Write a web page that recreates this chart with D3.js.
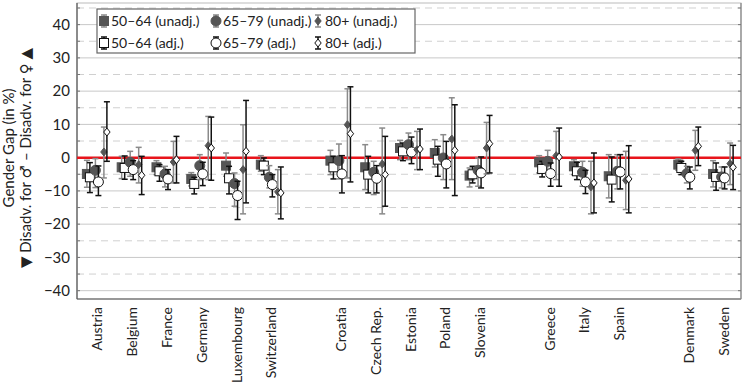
<!DOCTYPE html>
<html>
<head>
<meta charset="utf-8">
<script src="https://cdn.jsdelivr.net/npm/d3@7"></script>
<style>
  body { margin: 0; background: #fff; }
  text { font-family: Lato, "DejaVu Sans", sans-serif; fill: #222; }
</style>
</head>
<body>
<svg id="chart" width="745" height="383"></svg>
<script>
// Countries, with empty slots between the regional groups
const countries = ['Austria', 'Belgium', 'France', 'Germany', 'Luxembourg', 'Switzerland', '_g1',
  'Croatia', 'Czech Rep.', 'Estonia', 'Poland', 'Slovenia', '_g2',
  'Greece', 'Italy', 'Spain', '_g3', 'Denmark', 'Sweden'];
const realCountries = countries.filter(c => c[0] !== '_');

const yTicks = [-40, -30, -20, -10, 0, 10, 20, 30, 40];

// gap values (in %) and confidence bounds, one entry per real country
const v5064u = [-4.9, -2.9, -2.9, -6.4, -2.4, -2.1, -0.9, -2.9, 2.9, 1.4, -5.4, -1.4, -2.6, -5.6, -2.1, -4.9];
const lo5064u = [-8.9, -6.3, -5.1, -8.5, -5.6, -4.1, -5.1, -9.6, -0.6, -2.8, -8.8, -4.6, -5.1, -12.1, -3.8, -8.8];
const hi5064u = [-0.8, 0.4, -0.9, -4.5, 1.4, 0.6, 2.2, 3.9, 5.2, 5.4, -3.1, 0.6, -0.6, 0.9, -0.4, -0.9];

const v5064a = [-5.9, -3.1, -4.1, -7.9, -6.2, -2.4, -2.9, -5.1, 1.9, -0.6, -5.0, -3.4, -4.1, -6.6, -3.1, -5.8];
const lo5064a = [-10.5, -6.5, -7.1, -10.9, -10.9, -5.1, -6.4, -10.6, -0.9, -5.6, -7.6, -5.8, -6.6, -13.3, -5.1, -9.8];
const hi5064a = [-1.5, 0.5, -2.1, -5.9, -2.6, -0.1, 0.4, 0.4, 4.4, 3.4, -2.6, -1.1, -1.4, 0.2, -1.1, -1.6];

const v6579u = [-3.8, -1.4, -4.9, -2.4, -7.8, -5.9, -0.9, -4.4, 3.9, -0.1, -3.8, -1.1, -4.4, -4.1, -4.8, -5.8];
const lo6579u = [-9.0, -5.6, -8.8, -6.6, -14.6, -9.1, -6.4, -11.1, -0.6, -6.6, -8.6, -4.6, -8.6, -9.4, -7.6, -9.1];
const hi6579u = [-0.3, 1.9, -2.6, 0.9, -4.6, -2.4, 4.1, -1.1, 7.4, 6.9, -0.1, 2.2, -1.1, 0.9, -2.6, -2.8];

const v6579a = [-7.3, -3.6, -6.4, -4.9, -11.4, -8.1, -4.9, -6.2, 1.7, -1.9, -4.6, -4.8, -7.3, -4.3, -5.9, -6.1];
const lo6579a = [-11.4, -6.6, -9.6, -8.4, -18.6, -11.8, -10.6, -10.6, -1.8, -9.1, -9.1, -8.6, -10.8, -9.4, -9.4, -9.4];
const hi6579a = [-2.5, -0.9, -3.6, -1.4, -7.1, -5.1, 0.6, -2.4, 6.2, 4.9, 0.2, -1.6, -3.8, 0.9, -2.8, -2.8];

const v80u = [1.7, -2.1, -1.3, 3.6, -3.6, -10.3, 9.9, -1.9, 2.4, 5.6, 2.9, 0.6, -8.8, -6.8, 2.2, -1.8];
const lo80u = [-6.1, -7.6, -7.6, -6.6, -16.9, -16.9, -6.1, -16.9, -3.6, -6.6, -4.9, -6.6, -16.9, -15.6, -3.8, -8.1];
const hi80u = [9.2, 3.1, 4.9, 12.4, 9.9, -3.6, 20.7, 8.9, 7.9, 18.0, 10.6, 7.9, -1.1, 1.9, 8.2, 4.4];

const v80a = [7.7, -5.3, -0.6, 2.9, 1.9, -10.6, 7.2, -5.1, 2.6, 2.2, 4.2, 0.2, -7.6, -6.4, 3.4, -2.9];
const lo80a = [-1.1, -11.1, -7.6, -6.8, -13.6, -18.4, -7.3, -14.6, -3.6, -11.4, -4.6, -8.6, -16.6, -16.6, -2.4, -9.6];
const hi80a = [16.8, 0.4, 6.4, 12.2, 17.2, -2.8, 21.3, 6.4, 8.6, 15.9, 12.7, 8.9, 1.4, 3.6, 9.2, 3.7];

const series = [
  { label: '50–64 (unadj.)', shape: 'square', adj: false, dx: -10.5, v: v5064u, lo: lo5064u, hi: hi5064u },
  { label: '50–64 (adj.)', shape: 'square', adj: true, dx: -7.5, v: v5064a, lo: lo5064a, hi: hi5064a },
  { label: '65–79 (unadj.)', shape: 'circle', adj: false, dx: -2, v: v6579u, lo: lo6579u, hi: hi6579u },
  { label: '65–79 (adj.)', shape: 'circle', adj: true, dx: 1, v: v6579a, lo: lo6579a, hi: hi6579a },
  { label: '80+ (unadj.)', shape: 'diamond', adj: false, dx: 6.5, v: v80u, lo: lo80u, hi: hi80u },
  { label: '80+ (adj.)', shape: 'diamond', adj: true, dx: 9.5, v: v80a, lo: lo80a, hi: hi80a }
];

const margin = { left: 77, right: 4, top: 3, bottom: 84 };
const W = 745, H = 383;
const svg = d3.select('#chart');

const x = d3.scaleBand().domain(countries).range([margin.left + 3, W - margin.right]).padding(0);
const y = d3.scaleLinear().domain([-42.5, 46.5]).range([H - margin.bottom, margin.top]);

const plotL = margin.left, plotR = W - margin.right;
const plotT = margin.top, plotB = H - margin.bottom;

// grid lines: solid every 10, dashed at the 5s
const grid = svg.append('g');
d3.range(-40, 50, 5).forEach(t => {
  grid.append('line')
    .attr('x1', plotL).attr('x2', plotR)
    .attr('y1', y(t)).attr('y2', y(t))
    .attr('stroke', t % 10 === 0 ? '#c8c8c8' : '#d0d0d0')
    .attr('stroke-width', 1)
    .attr('stroke-dasharray', t % 10 === 0 ? null : '7,5');
});

// frame
svg.append('rect')
  .attr('x', plotL).attr('y', plotT)
  .attr('width', plotR - plotL).attr('height', plotB - plotT)
  .attr('fill', 'none').attr('stroke', '#bbb');
svg.append('line').attr('x1', plotL).attr('x2', plotL).attr('y1', plotT).attr('y2', plotB)
  .attr('stroke', '#555').attr('stroke-width', 1.2);
svg.append('line').attr('x1', plotL).attr('x2', plotR).attr('y1', plotB).attr('y2', plotB)
  .attr('stroke', '#555').attr('stroke-width', 1.2);
svg.append('line').attr('x1', plotR).attr('x2', plotR).attr('y1', plotT).attr('y2', plotB)
  .attr('stroke', '#888').attr('stroke-width', 1.2);

// y axis labels
const yAxis = d3.axisLeft(y).tickValues(yTicks).tickSize(0).tickPadding(7);
svg.append('g')
  .attr('transform', `translate(${plotL},0)`)
  .call(yAxis)
  .call(g => g.select('.domain').remove())
  .call(g => g.selectAll('text').attr('font-size', 15).attr('fill', '#222')
    .style('font-family', 'Lato, "DejaVu Sans", sans-serif'));

// small inward ticks on left and right
d3.range(-40, 50, 5).forEach(t => {
  svg.append('line').attr('x1', plotL).attr('x2', plotL + 3).attr('y1', y(t)).attr('y2', y(t)).attr('stroke', '#777');
  svg.append('line').attr('x1', plotR - 3).attr('x2', plotR).attr('y1', y(t)).attr('y2', y(t)).attr('stroke', '#777');
});

// zero line
svg.append('line')
  .attr('x1', plotL).attr('x2', plotR)
  .attr('y1', y(0)).attr('y2', y(0))
  .attr('stroke', '#e8141b').attr('stroke-width', 2.5);

// y title
svg.append('text')
  .attr('transform', `translate(14, ${(plotT + plotB) / 2 - 3}) rotate(-90)`)
  .attr('text-anchor', 'middle')
  .attr('font-size', 15)
  .text('Gender Gap (in %)');
svg.append('text')
  .attr('transform', `translate(31, ${(plotT + plotB) / 2 + 7}) rotate(-90)`)
  .attr('text-anchor', 'middle')
  .attr('font-size', 15)
  .text('▼ Disadv. for ♂ – Disadv. for ♀ ▲');

// country labels
svg.append('g').selectAll('text')
  .data(realCountries)
  .join('text')
  .attr('transform', d => `translate(${x(d) + x.bandwidth() / 2 + 5}, ${plotB + 8}) rotate(-90)`)
  .attr('text-anchor', 'end')
  .attr('font-size', 14)
  .text(d => d);

function drawMarker(g, shape, adj, cx, cy) {
  const fill = adj ? '#fff' : '#555';
  const stroke = adj ? '#111' : '#555';
  if (shape === 'square') {
    g.append('rect').attr('x', cx - 4.5).attr('y', cy - 4.5).attr('width', 9).attr('height', 9)
      .attr('fill', fill).attr('stroke', stroke).attr('stroke-width', 1);
  } else if (shape === 'circle') {
    g.append('circle').attr('cx', cx).attr('cy', cy).attr('r', 5)
      .attr('fill', fill).attr('stroke', stroke).attr('stroke-width', 1);
  } else {
    g.append('path')
      .attr('d', `M${cx},${cy - 4} L${cx + 3.2},${cy} L${cx},${cy + 4} L${cx - 3.2},${cy} Z`)
      .attr('fill', fill).attr('stroke', stroke).attr('stroke-width', 1);
  }
}

function drawBar(g, adj, cx, y1, y2) {
  const col = adj ? '#111' : '#8a8a8a';
  g.append('line').attr('x1', cx).attr('x2', cx).attr('y1', y1).attr('y2', y2)
    .attr('stroke', col).attr('stroke-width', 1.5);
  [y1, y2].forEach(yy => {
    g.append('line').attr('x1', cx - 3).attr('x2', cx + 3).attr('y1', yy).attr('y2', yy)
      .attr('stroke', col).attr('stroke-width', 1.5);
  });
}

const marks = svg.append('g');
series.forEach(s => {
  realCountries.forEach((c, i) => {
    const cx = x(c) + x.bandwidth() / 2 + s.dx;
    drawBar(marks, s.adj, cx, y(s.lo[i]), y(s.hi[i]));
    drawMarker(marks, s.shape, s.adj, cx, y(s.v[i]));
  });
});

// legend
const legend = svg.append('g');
legend.append('rect')
  .attr('x', 97).attr('y', 9).attr('width', 318).attr('height', 44)
  .attr('fill', '#fff').attr('stroke', '#666').attr('stroke-width', 1.2);
const legCols = [104, 216, 318];
series.forEach((s, i) => {
  const col = Math.floor(i / 2), row = i % 2;
  const lx = legCols[col], ly = 21 + row * 22;
  drawBar(legend, s.adj, lx, ly - 6, ly + 6);
  drawMarker(legend, s.shape, s.adj, lx, ly);
  legend.append('text')
    .attr('x', lx + 7).attr('y', ly)
    .attr('dy', '0.35em')
    .attr('font-size', 14)
    .text(s.label);
});
</script>
</body>
</html>
